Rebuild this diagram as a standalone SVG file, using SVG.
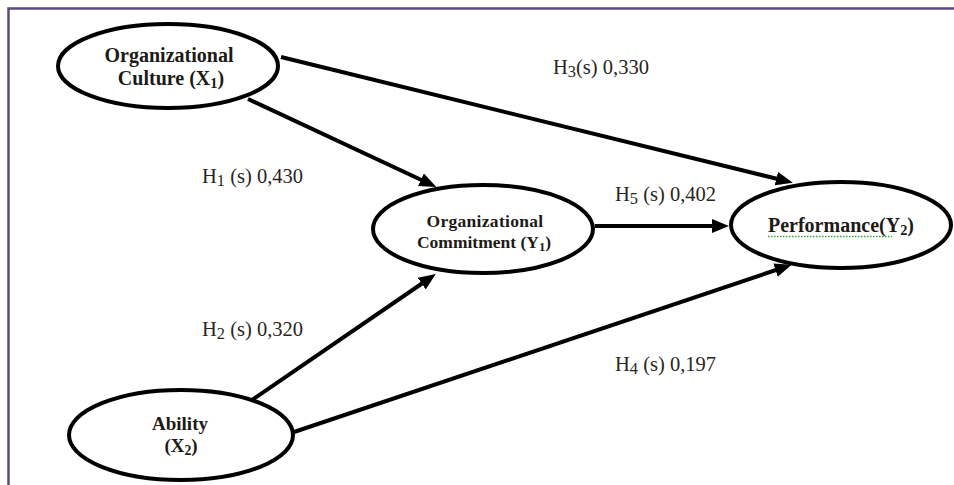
<svg xmlns="http://www.w3.org/2000/svg" width="954" height="485" viewBox="0 0 954 485">
<defs>
<style>
.node ellipse{fill:#fff;stroke:#000;stroke-width:4}
.nt{font-family:"Liberation Serif","Times New Roman",serif;font-weight:bold;fill:#1e1a16;text-anchor:middle}
.lab{font-family:"Liberation Serif","Times New Roman",serif;font-size:20.5px;fill:#2a2520}
.sub{font-size:0.72em}
.ls{font-size:0.8em}
.edge{stroke:#000;stroke-width:4;fill:none;marker-end:url(#ah)}
</style>
<marker id="ah" markerUnits="userSpaceOnUse" markerWidth="18" markerHeight="14" refX="10" refY="7" orient="auto">
<path d="M0,0 L17,7 L0,14 z" fill="#000"/>
</marker>
</defs>
<rect width="954" height="485" fill="#fff"/>
<path d="M8.5,485 V8.5 H954" fill="none" stroke="#5c4a82" stroke-width="2.5"/>
<g id="connectors">
<line class="edge" x1="281" y1="57" x2="786" y2="181"/>
<line class="edge" x1="248" y1="99" x2="430" y2="184"/>
<line class="edge" x1="595" y1="226" x2="722" y2="226"/>
<line class="edge" x1="252" y1="400" x2="430" y2="278"/>
<line class="edge" x1="294" y1="432" x2="785" y2="267"/>
</g>
<g id="culture" class="node">
<ellipse cx="168" cy="66" rx="110" ry="42"/>
<text class="nt" font-size="20" x="169" y="62">Organizational</text>
<text class="nt" font-size="20" x="171" y="85">Culture (X<tspan class="sub" dy="3">1</tspan><tspan dy="-3">)</tspan></text>
</g>
<g id="commitment" class="node">
<ellipse cx="483" cy="229" rx="110" ry="44"/>
<text class="nt" font-size="17.5" x="485" y="227" letter-spacing="0.3">Organizational</text>
<text class="nt" font-size="17.5" x="484" y="248">Commitment (Y<tspan class="sub" dy="3">1</tspan><tspan dy="-3">)</tspan></text>
</g>
<g id="performance" class="node">
<ellipse cx="841" cy="225" rx="110" ry="43"/>
<text class="nt" font-size="20" x="841" y="232">Performance(Y<tspan class="sub" dy="3">2</tspan><tspan dy="-3">)</tspan></text>
<path d="M768,236.5 H892" stroke="#3aa63a" stroke-width="1.3" stroke-dasharray="1.5,1.5" fill="none"/>
</g>
<g id="ability" class="node">
<ellipse cx="181" cy="435" rx="112" ry="45"/>
<text class="nt" font-size="19" x="180" y="430">Ability</text>
<text class="nt" font-size="19" x="181" y="452">(X<tspan class="sub" dy="3">2</tspan><tspan dy="-3">)</tspan></text>
</g>
<g id="labels">
<text class="lab" x="553" y="74">H<tspan class="ls" dy="3">3</tspan><tspan dy="-3">(s) 0,330</tspan></text>
<text class="lab" x="202" y="183">H<tspan class="ls" dy="3">1</tspan><tspan dy="-3"> (s) 0,430</tspan></text>
<text class="lab" x="202" y="336">H<tspan class="ls" dy="3">2</tspan><tspan dy="-3"> (s) 0,320</tspan></text>
<text class="lab" x="615" y="371">H<tspan class="ls" dy="3">4</tspan><tspan dy="-3"> (s) 0,197</tspan></text>
<text class="lab" x="615" y="201">H<tspan class="ls" dy="3">5</tspan><tspan dy="-3"> (s) 0,402</tspan></text>
</g>
</svg>
